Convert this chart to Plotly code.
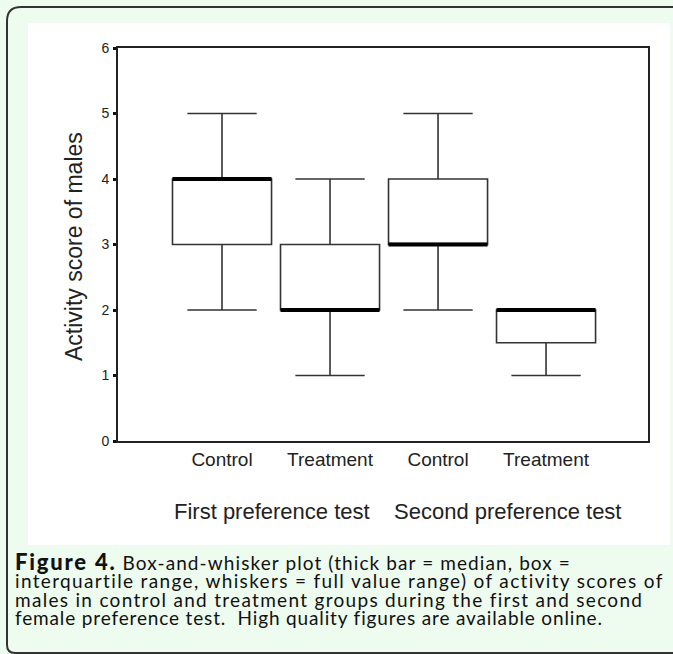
import plotly.graph_objects as go

# ---- data ----
categories = ["Control", "Treatment", "Control", "Treatment"]
groups = ["First preference test", "Second preference test"]
minimum = [2, 1, 2, 1]
q1 = [3, 2, 3, 1.5]
median = [4, 2, 3, 2]
q3 = [4, 3, 4, 2]
maximum = [5, 4, 5, 2]
y_ticks = [0, 1, 2, 3, 4, 5, 6]
y_title = "Activity score of males"
caption_title = "Figure 4."
caption_lines = [
    " Box-and-whisker plot (thick bar = median, box =",
    "interquartile range, whiskers = full value range) of activity scores of",
    "males in control and treatment groups during the first and second",
    "female preference test.  High quality figures are available online.",
]
caption_spacing = [1.1, 1.35, 1.3, 0.85]   # letter-spacing (px) per caption line

# ---- layout geometry (pixels) ----
W, H = 673, 654
L, R, T, B = 118, 648, 48, 441
pw, ph = R - L, B - T


def px(x):
    return (x - L) / pw


def py(y):
    return (B - y) / ph


xpos = list(range(len(categories)))
box_w = 0.917

fig = go.Figure()
fig.add_trace(go.Box(
    x=xpos, q1=q1, median=median, q3=q3,
    lowerfence=minimum, upperfence=maximum,
    width=box_w, whiskerwidth=0.7,
    fillcolor="white", line=dict(color="#333333", width=1.6),
    boxpoints=False, showlegend=False, hoverinfo="skip",
))
# thick median bars
mx, my = [], []
for xi, m in zip(xpos, median):
    mx += [xi - box_w / 2, xi + box_w / 2, None]
    my += [m, m, None]
fig.add_trace(go.Scatter(x=mx, y=my, mode="lines",
                         line=dict(color="black", width=4),
                         showlegend=False, hoverinfo="skip"))

axis_font = dict(family="Liberation Sans, Arial, sans-serif", color="#222222")

span = '<span style="font-size:19px; letter-spacing:{}px">{}</span>'
lines_html = [span.format(s, l) for s, l in zip(caption_spacing, caption_lines)]
lines_html[0] = ('<span style="font-size:22px; font-weight:900; letter-spacing:1.8px">'
                 + caption_title + '</span>' + lines_html[0])
caption_html = "<br>".join(lines_html)

fig.update_layout(
    width=W, height=H,
    margin=dict(l=L, r=W - R, t=T, b=H - B, pad=0),
    paper_bgcolor="#EEFBEF",
    plot_bgcolor="white",
    xaxis=dict(
        range=[-0.963, 3.944], tickmode="array", tickvals=xpos, ticktext=categories,
        showline=True, mirror=True, linecolor="#222222", linewidth=1.6,
        showgrid=False, zeroline=False, ticks="",
        tickfont=dict(size=19, **axis_font),
    ),
    yaxis=dict(
        range=[0, 6], tickvals=y_ticks,
        showline=True, mirror=True, linecolor="#222222", linewidth=1.6,
        showgrid=False, zeroline=False, ticks="outside", ticklen=3, tickwidth=3,
        ticklabelstandoff=1,
        tickcolor="#111111", tickfont=dict(size=14, **axis_font),
    ),
    shapes=[
        # white picture area
        dict(type="rect", xref="paper", yref="paper", layer="below",
             x0=px(28), x1=px(670), y0=py(23), y1=py(545),
             fillcolor="white", line=dict(width=0)),
        # rounded frame
        dict(type="path", xref="paper", yref="paper", layer="above",
             path=(f"M {px(680)},{py(7)} L {px(21)},{py(7)} "
                   f"Q {px(7)},{py(7)} {px(7)},{py(21)} "
                   f"L {px(7)},{py(645)} Q {px(7)},{py(653)} {px(15)},{py(653)} "
                   f"L {px(680)},{py(653)}"),
             line=dict(color="#333333", width=2)),
    ],
    annotations=[
        dict(text=y_title, textangle=-90, xref="paper", yref="paper",
             x=px(74), y=py(247), showarrow=False, xanchor="center", yanchor="middle",
             font=dict(size=23, **axis_font)),
        dict(text=groups[0], xref="paper", yref="paper", x=px(272), y=py(512),
             showarrow=False, xanchor="center", yanchor="middle",
             font=dict(size=22, **axis_font)),
        dict(text=groups[1], xref="paper", yref="paper", x=px(507), y=py(512),
             showarrow=False, xanchor="center", yanchor="middle",
             font=dict(size=22, **axis_font)),
        dict(text=caption_html, xref="paper", yref="paper", x=px(13), y=py(588),
             showarrow=False, xanchor="left", yanchor="middle", align="left",
             font=dict(size=14.2, family="Lato, sans-serif", color="#111111")),
    ],
)

fig.write_html("out.html", config={"displayModeBar": False},
               post_script="document.body.style.margin='0';"
                           "document.body.style.overflow='hidden';")
